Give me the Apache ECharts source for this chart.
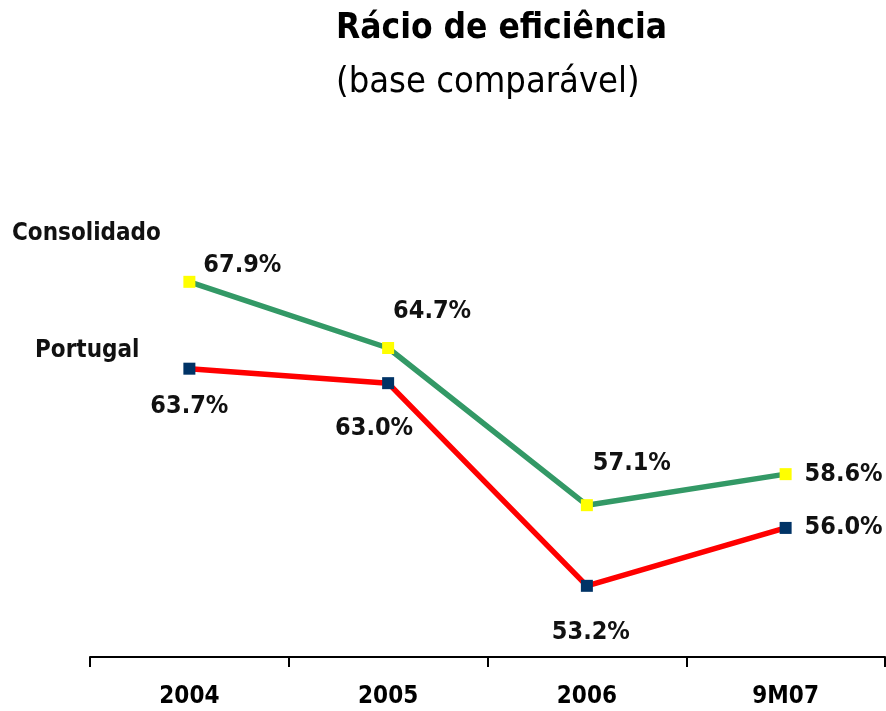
<!DOCTYPE html>
<html><head><meta charset="utf-8">
<script src="https://cdn.jsdelivr.net/npm/echarts@6/dist/echarts.min.js"></script>
<style>html,body{margin:0;padding:0;background:#fff}#c{width:886px;height:711px}</style>
</head><body><div id="c"></div>
<script>
const categories = ['2004', '2005', '2006', '9M07'];
const consolidado = [67.9, 64.7, 57.1, 58.6];
const portugal = [63.7, 63.0, 53.2, 56.0];
const seriesNames = ['Consolidado', 'Portugal'];
const titleText = 'Rácio de eficiência';
const subtitleText = '(base comparável)';

const labelFont = {fontFamily: 'DejaVu Sans Condensed', fontWeight: 'bold', fontSize: 25, color: '#111'};
const consLabelPos = [[53, -16], [44, -37], [45, -42], [58, 0]];
const portLabelPos = [[0, 38], [-14, 45], [4, 47], [58, 0]];

function mk(vals, offs) {
  return vals.map((v, i) => ({
    value: v,
    label: {show: true, position: 'inside', offset: offs[i], formatter: p => p.value.toFixed(1) + '%', ...labelFont}
  }));
}

const chart = echarts.init(document.getElementById('c'));
chart.setOption({
  animation: false,
  title: {
    text: titleText, subtext: subtitleText, left: 331, top: 6, itemGap: 19,
    textStyle: {fontFamily: 'DejaVu Sans Condensed', fontWeight: 'bold', fontSize: 35, color: '#000'},
    subtextStyle: {fontFamily: 'DejaVu Sans Condensed', fontWeight: 'normal', fontSize: 36, color: '#000'}
  },
  graphic: [
    {type: 'text', left: 12, top: 222, style: {text: seriesNames[0], font: 'bold 24px "DejaVu Sans Condensed"', fill: '#111'}},
    {type: 'text', left: 35, top: 339, style: {text: seriesNames[1], font: 'bold 24px "DejaVu Sans Condensed"', fill: '#111'}}
  ],
  grid: {left: 90, right: 1, top: 135, bottom: 59},
  xAxis: {
    type: 'category', data: categories, boundaryGap: true, offset: 5,
    axisLine: {lineStyle: {color: '#000', width: 2}},
    axisTick: {show: true, length: 10, lineStyle: {color: '#000', width: 2}},
    axisLabel: {margin: 28, fontFamily: 'DejaVu Sans Condensed', fontWeight: 'bold', fontSize: 24, color: '#000'}
  },
  yAxis: {type: 'value', min: 50, max: 75, show: false, splitLine: {show: false}},
  series: [
    {name: seriesNames[0], type: 'line', data: mk(consolidado, consLabelPos),
      lineStyle: {color: '#339966', width: 5.5}, symbol: 'rect', symbolSize: 12,
      itemStyle: {color: '#FFFF00'}, z: 3},
    {name: seriesNames[1], type: 'line', data: mk(portugal, portLabelPos),
      lineStyle: {color: '#FF0000', width: 5.5}, symbol: 'rect', symbolSize: 12,
      itemStyle: {color: '#003366'}, z: 3}
  ]
});
</script></body></html>
